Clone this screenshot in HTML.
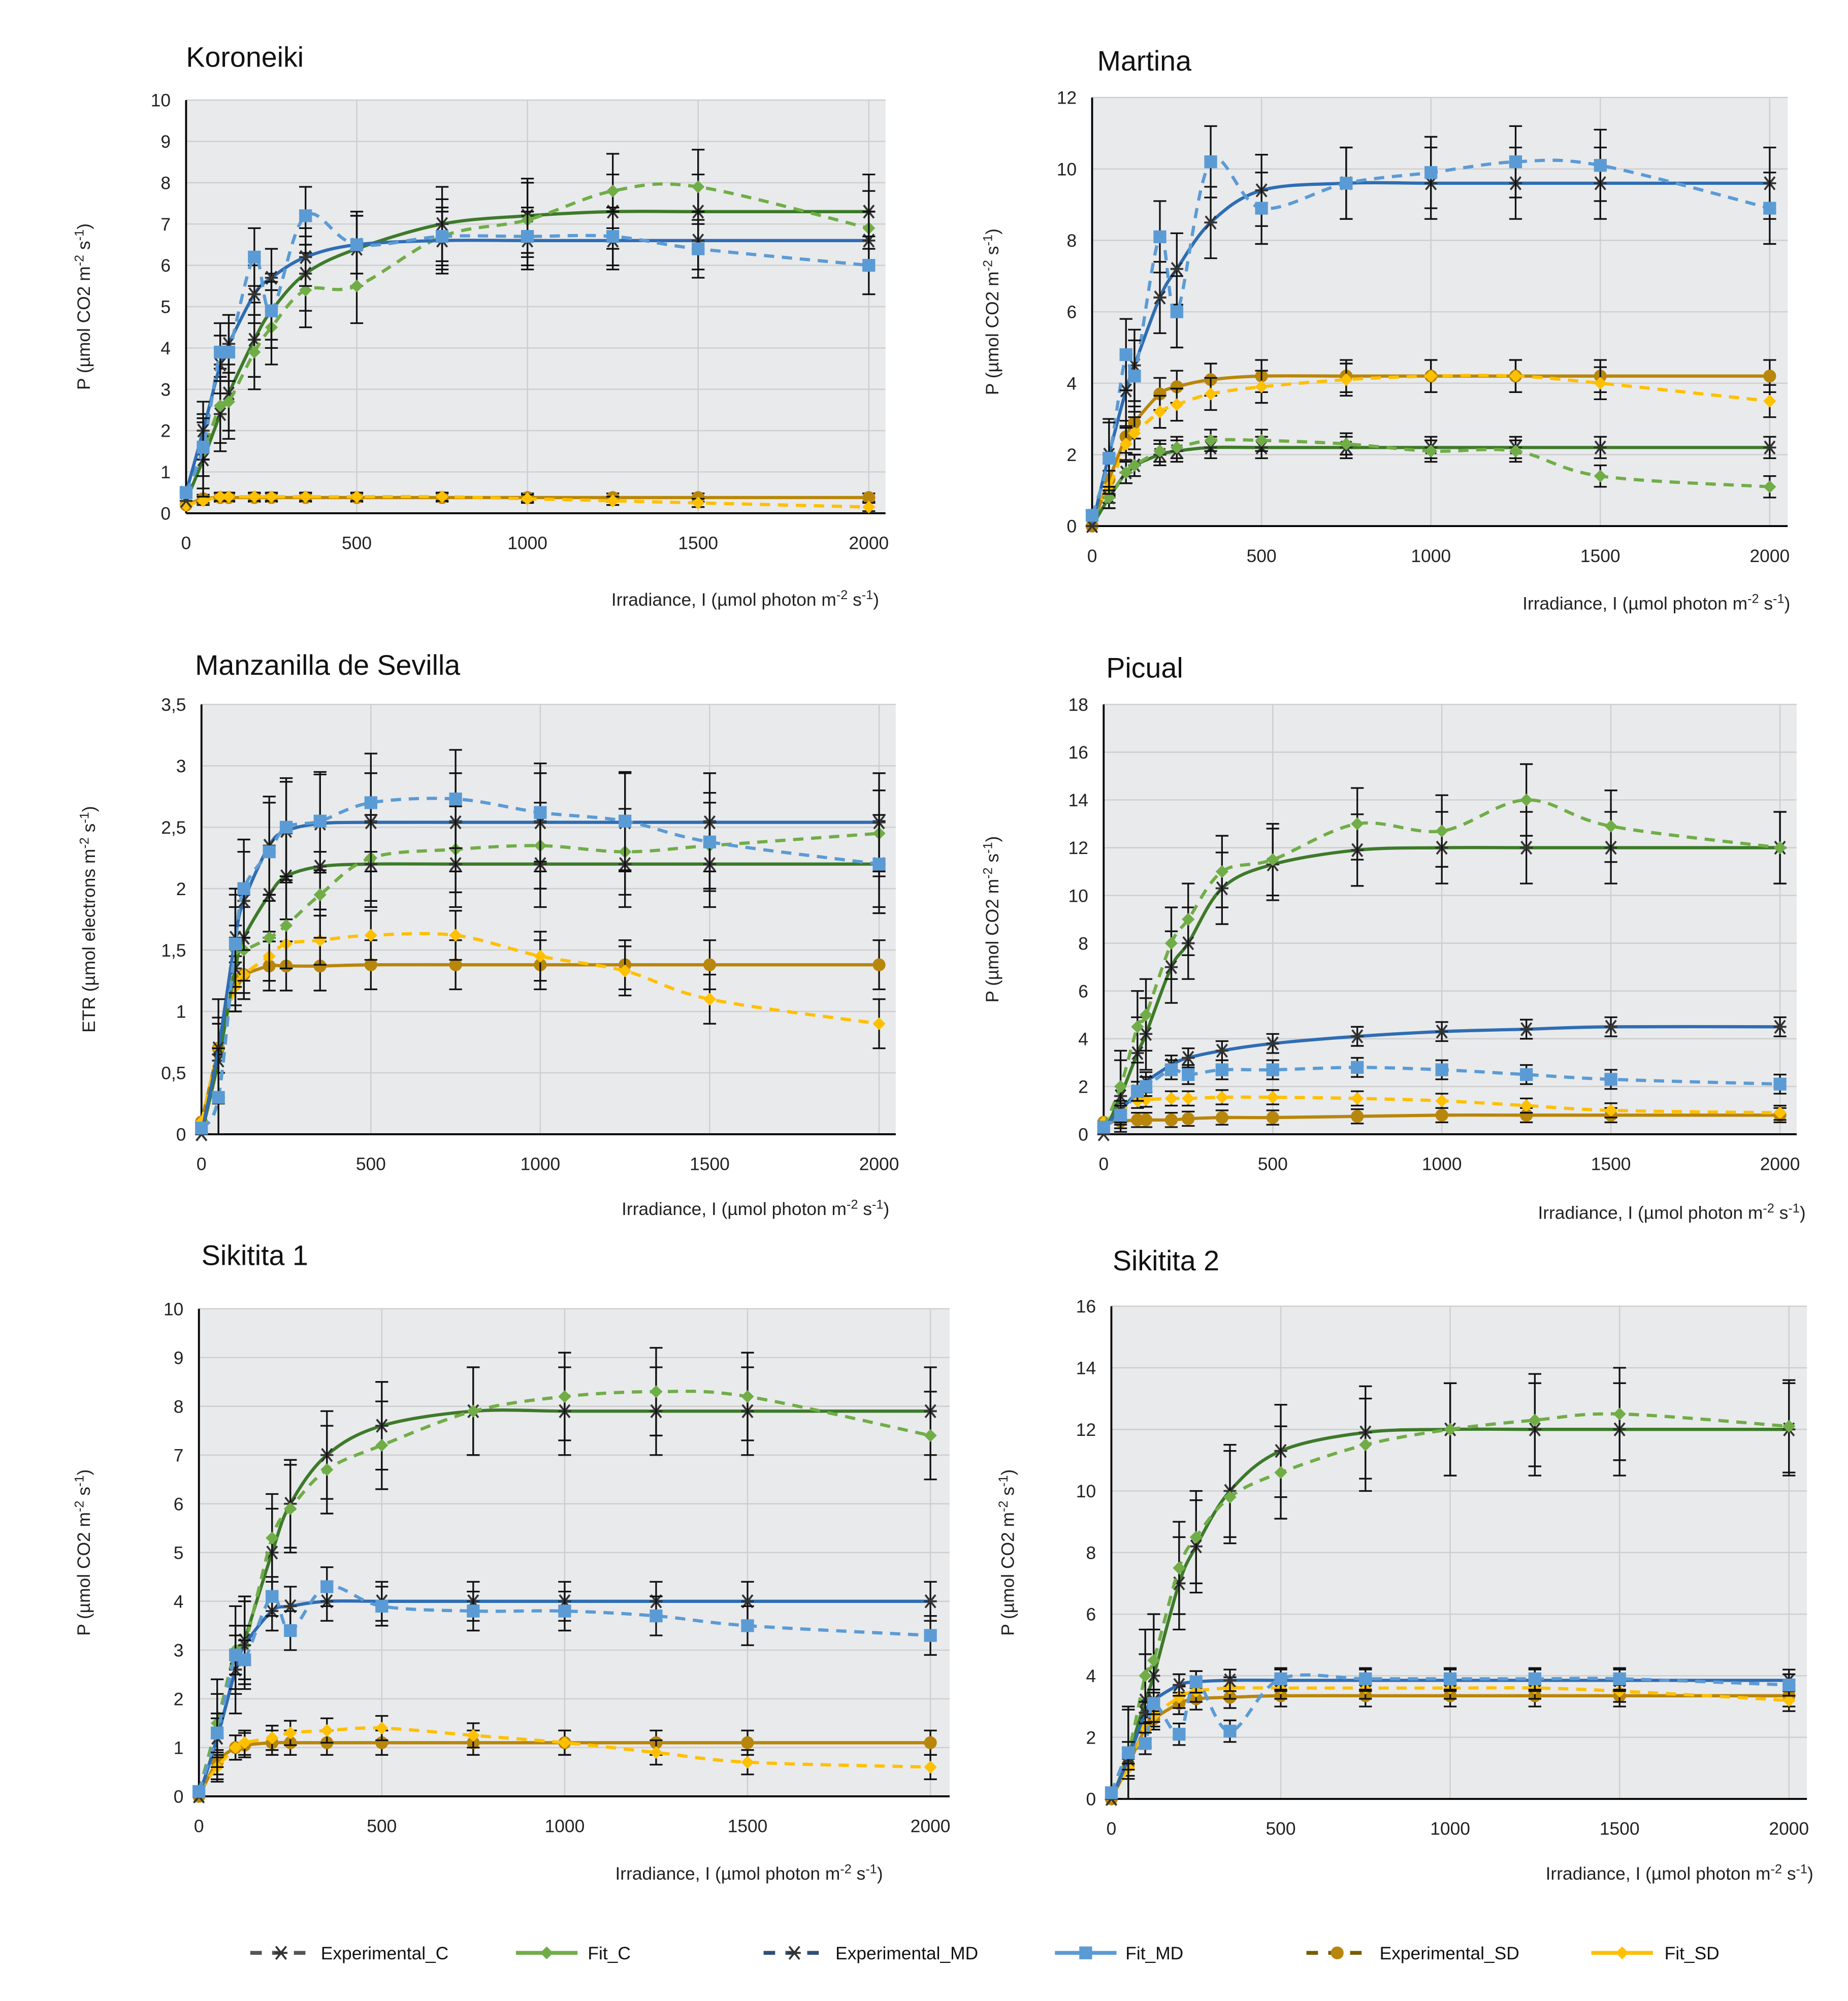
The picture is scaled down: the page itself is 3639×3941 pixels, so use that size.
<!DOCTYPE html>
<html><head><meta charset="utf-8"><style>
html,body{margin:0;padding:0;background:#fff}
svg{display:block}
text{font-family:"Liberation Sans","DejaVu Sans",sans-serif}
</style></head><body>
<svg id="chart" width="3639" height="3941" viewBox="0 0 1440 1559.5" xmlns="http://www.w3.org/2000/svg"></svg>
<script>
const irradiance=[0,50,100,125,200,250,350,500,750,1000,1250,1500,2000];
const xTicks=[0,500,1000,1500,2000];
const panelNames=["Koroneiki","Martina","Manzanilla de Sevilla","Picual","Sikitita 1","Sikitita 2"];
const yMaxes=[10,12,3.5,18,10,16];
const yStepArr=[1,2,0.5,2,1,2];
const koroneikiCExp=[0.5,1.5,2.6,2.7,3.9,4.5,5.4,5.5,6.7,7.1,7.8,7.9,6.9];
const koroneikiCFit=[0.3,1.3,2.4,2.9,4.2,4.9,5.8,6.4,7.0,7.2,7.3,7.3,7.3];
const koroneikiMDExp=[0.5,1.6,3.9,3.9,6.2,4.9,7.2,6.5,6.7,6.7,6.7,6.4,6.0];
const koroneikiMDFit=[0.5,2.0,3.6,4.1,5.3,5.7,6.2,6.5,6.6,6.6,6.6,6.6,6.6];
const koroneikiSDExp=[0.2,0.3,0.4,0.4,0.4,0.4,0.4,0.4,0.4,0.35,0.3,0.25,0.15];
const koroneikiSDFit=[0.2,0.35,0.38,0.38,0.38,0.38,0.38,0.38,0.38,0.38,0.38,0.38,0.38];
const martinaCExp=[0.3,0.8,1.5,1.7,2.1,2.2,2.4,2.4,2.3,2.1,2.1,1.4,1.1];
const martinaCFit=[0,0.8,1.5,1.7,2.0,2.1,2.2,2.2,2.2,2.2,2.2,2.2,2.2];
const martinaMDExp=[0.3,1.9,4.8,4.2,8.1,6.0,10.2,8.9,9.6,9.9,10.2,10.1,8.9];
const martinaMDFit=[0,2.0,3.8,4.5,6.4,7.2,8.5,9.4,9.6,9.6,9.6,9.6,9.6];
const martinaSDExp=[0.3,1.1,2.3,2.6,3.2,3.4,3.7,3.9,4.1,4.2,4.2,4.0,3.5];
const martinaSDFit=[0,1.3,2.5,2.9,3.7,3.9,4.1,4.2,4.2,4.2,4.2,4.2,4.2];
const manzCExp=[0.05,0.3,1.5,1.5,1.6,1.7,1.95,2.25,2.32,2.35,2.3,2.35,2.45];
const manzCFit=[0,0.6,1.35,1.6,1.95,2.1,2.18,2.2,2.2,2.2,2.2,2.2,2.2];
const manzMDExp=[0.05,0.3,1.55,2.0,2.3,2.5,2.55,2.7,2.73,2.62,2.55,2.38,2.2];
const manzMDFit=[0,0.7,1.6,1.9,2.35,2.47,2.53,2.54,2.54,2.54,2.54,2.54,2.54];
const manzSDExp=[0.1,0.7,1.2,1.3,1.45,1.55,1.58,1.62,1.62,1.45,1.33,1.1,0.9];
const manzSDFit=[0.1,0.7,1.25,1.3,1.37,1.37,1.37,1.38,1.38,1.38,1.38,1.38,1.38];
const picualCExp=[0.3,2.0,4.5,5.0,8.0,9.0,11.0,11.5,13.0,12.7,14.0,12.9,12.0];
const picualCFit=[0,1.6,3.4,4.2,7.0,8.0,10.3,11.3,11.9,12.0,12.0,12.0,12.0];
const picualMDExp=[0.3,0.8,1.8,2.0,2.7,2.5,2.7,2.7,2.8,2.7,2.5,2.3,2.1];
const picualMDFit=[0.3,1.0,1.8,2.2,2.9,3.2,3.5,3.8,4.1,4.3,4.4,4.5,4.5];
const picualSDExp=[0.5,1.0,1.4,1.45,1.5,1.5,1.55,1.55,1.5,1.4,1.2,1.0,0.9];
const picualSDFit=[0.5,0.55,0.6,0.6,0.6,0.65,0.7,0.7,0.75,0.8,0.8,0.8,0.8];
const sik1CExp=[0.1,1.5,3.0,3.1,5.3,5.9,6.7,7.2,7.9,8.2,8.3,8.2,7.4];
const sik1CFit=[0,1.2,2.6,3.2,5.0,6.0,7.0,7.6,7.9,7.9,7.9,7.9,7.9];
const sik1MDExp=[0.1,1.3,2.9,2.8,4.1,3.4,4.3,3.9,3.8,3.8,3.7,3.5,3.3];
const sik1MDFit=[0,1.2,2.6,3.1,3.8,3.9,4.0,4.0,4.0,4.0,4.0,4.0,4.0];
const sik1SDExp=[0.1,0.6,1.0,1.1,1.2,1.3,1.35,1.4,1.25,1.1,0.9,0.7,0.6];
const sik1SDFit=[0,0.7,1.0,1.05,1.1,1.1,1.1,1.1,1.1,1.1,1.1,1.1,1.1];
const sik2CExp=[0.2,1.5,4.0,4.5,7.5,8.5,9.8,10.6,11.5,12.0,12.3,12.5,12.1];
const sik2CFit=[0,1.4,3.2,4.0,7.0,8.2,10.0,11.3,11.9,12.0,12.0,12.0,12.0];
const sik2MDExp=[0.2,1.5,1.8,3.1,2.1,3.8,2.2,3.9,3.9,3.9,3.9,3.9,3.7];
const sik2MDFit=[0,1.3,2.8,3.2,3.7,3.8,3.85,3.85,3.85,3.85,3.85,3.85,3.85];
const sik2SDExp=[0.1,1.0,2.3,2.7,3.3,3.5,3.6,3.6,3.6,3.6,3.6,3.5,3.2];
const sik2SDFit=[0,1.1,2.3,2.6,3.1,3.25,3.3,3.35,3.35,3.35,3.35,3.35,3.35];
const errC=[0.9,0.3,0.35,1.5,0.9,1.5];
const errMD=[0.7,1.0,0.4,0.4,0.4,0.35];
const errSD=[0.1,0.45,0.2,0.3,0.25,0.35];

const panelSeries=[
 [koroneikiCExp,koroneikiCFit,koroneikiMDExp,koroneikiMDFit,koroneikiSDExp,koroneikiSDFit],
 [martinaCExp,martinaCFit,martinaMDExp,martinaMDFit,martinaSDExp,martinaSDFit],
 [manzCExp,manzCFit,manzMDExp,manzMDFit,manzSDExp,manzSDFit],
 [picualCExp,picualCFit,picualMDExp,picualMDFit,picualSDExp,picualSDFit],
 [sik1CExp,sik1CFit,sik1MDExp,sik1MDFit,sik1SDExp,sik1SDFit],
 [sik2CExp,sik2CFit,sik2MDExp,sik2MDFit,sik2SDExp,sik2SDFit]];
// layout: plot left, right, top, bottom, x at 2000, title pos, ylabel x, xlabel end, xlabel y
const layouts=[
 {l:145,r:690,t:78,b:400,x2:677,tx:145,ty:52,yl:70,xe:685,xy:472},
 {l:851,r:1393,t:76,b:410,x2:1379,tx:855,ty:55,yl:778,xe:1395,xy:475},
 {l:157,r:698,t:549,b:884,x2:685,tx:152,ty:526,yl:74,xe:693,xy:947},
 {l:860,r:1400,t:549,b:884,x2:1387,tx:862,ty:528,yl:778,xe:1407,xy:950},
 {l:155,r:740,t:1020,b:1400,x2:725,tx:157,ty:986,yl:70,xe:688,xy:1465},
 {l:866,r:1408,t:1018,b:1402,x2:1394,tx:867,ty:990,yl:790,xe:1413,xy:1465}];
const NS="http://www.w3.org/2000/svg";
const svg=document.getElementById('chart');
function mk(tag,attrs,parent){const e=document.createElementNS(NS,tag);for(const k in attrs)e.setAttribute(k,attrs[k]);(parent||svg).appendChild(e);return e;}
function smooth(pts){let d='M'+pts[0][0]+','+pts[0][1];for(let i=0;i<pts.length-1;i++){const p0=pts[i-1]||pts[i],p1=pts[i],p2=pts[i+1],p3=pts[i+2]||p2;const c1=[p1[0]+(p2[0]-p0[0])/6,p1[1]+(p2[1]-p0[1])/6],c2=[p2[0]-(p3[0]-p1[0])/6,p2[1]-(p3[1]-p1[1])/6];d+=' C'+c1[0]+','+c1[1]+' '+c2[0]+','+c2[1]+' '+p2[0]+','+p2[1];}return d;}
const styles=[
 {c:'#70ad47',dash:'8,6',m:'diamond',w:2.5,n:'fit-c'},
 {c:'#3d7a2a',dash:'',m:'x',w:2.5,n:'experimental-c'},
 {c:'#5b9bd5',dash:'8,6',m:'square',w:2.5,n:'fit-md'},
 {c:'#2e6db4',dash:'',m:'x',w:2.5,n:'experimental-md'},
 {c:'#ffc000',dash:'8,6',m:'diamond',w:2.5,n:'fit-sd'},
 {c:'#b8860b',dash:'',m:'circle',w:2.5,n:'experimental-sd'}];
function marker(g,m,x,y,c){
 let e;
 if(m==='diamond')e=mk('polygon',{points:`${x},${y-5} ${x+5},${y} ${x},${y+5} ${x-5},${y}`,fill:c},g);
 else if(m==='square')e=mk('rect',{x:x-5,y:y-5,width:10,height:10,fill:c},g);
 else if(m==='circle')e=mk('circle',{cx:x,cy:y,r:5,fill:c},g);
 else e=mk('path',{d:`M${x-4},${y-5}L${x+4},${y+5}M${x+4},${y-5}L${x-4},${y+5}M${x-5},${y}L${x+5},${y}`,stroke:'#333',"stroke-width":1.5,fill:'none'},g);
 
 
}
layouts.forEach((L,pi)=>{
 const g=mk('g',{});
 
 
 const ymax=yMaxes[pi],step=yStepArr[pi];
 const X=v=>L.l+(L.x2-L.l)*v/2000, Y=v=>L.b-(L.b-L.t)*v/ymax;
 const bg=mk('rect',{x:L.l,y:L.t,width:L.r-L.l,height:L.b-L.t,fill:'#e9eaec'},g);
 
 
 for(let v=0;v<=ymax+1e-9;v+=step){
  mk('line',{x1:L.l,x2:L.r,y1:Y(v),y2:Y(v),stroke:'#cfcfcf','stroke-width':1},g);
  const t=mk('text',{x:L.l-12,y:Y(v)+5,'text-anchor':'end','font-size':14,fill:'#222'},g);
  t.textContent=String(Math.round(v*10)/10).replace('.',',');
  
  
 }
 xTicks.forEach(v=>{
  mk('line',{x1:X(v),x2:X(v),y1:L.t,y2:L.b,stroke:'#cfcfcf','stroke-width':1},g);
  const t=mk('text',{x:X(v),y:L.b+28,'text-anchor':'middle','font-size':14,fill:'#222'},g);
  t.textContent=v;
  
  
 });
 mk('line',{x1:L.l,x2:L.l,y1:L.t,y2:L.b,stroke:'#000','stroke-width':1.5},g);
 mk('line',{x1:L.l,x2:L.r,y1:L.b,y2:L.b,stroke:'#000','stroke-width':1.5},g);
 const title=mk('text',{x:L.tx,y:L.ty,'font-size':22,fill:'#111'},g);
 title.textContent=panelNames[pi];
 
 
 const ym=(L.t+L.b)/2;
 const yl=mk('text',{x:L.yl,y:ym,'text-anchor':'middle','font-size':14,fill:'#222',transform:`rotate(-90 ${L.yl} ${ym})`},g);
 yl.innerHTML=(pi===2?'ETR  (µmol electrons m':'P (µmol CO2 m')+'<tspan dy="-5" font-size="10">-2</tspan><tspan dy="5"> s</tspan><tspan dy="-5" font-size="10">-1</tspan><tspan dy="5">)</tspan>';
 
 
 const xl=mk('text',{x:L.xe,y:L.xy,'text-anchor':'end','font-size':14,fill:'#222'},g);
 xl.innerHTML='Irradiance, I (µmol photon m<tspan dy="-5" font-size="10">-2</tspan><tspan dy="5"> s</tspan><tspan dy="-5" font-size="10">-1</tspan><tspan dy="5">)</tspan>';
 
 
 const errs=[errC[pi],errC[pi],errMD[pi],errMD[pi],errSD[pi],errSD[pi]];
 const order=[5,4,1,0,3,2];
 order.forEach(si=>{
  const s=styles[si],vals=panelSeries[pi][si];
  const sg=mk('g',{},g);
  
  
  const pts=vals.map((v,i)=>[X(irradiance[i]),Y(v)]);
  const p=mk('path',{d:smooth(pts),fill:'none',stroke:s.c,'stroke-width':s.w,'stroke-dasharray':s.dash},sg);
  
  
  vals.forEach((v,i)=>{
   if(i===0)return;
   const e=errs[si],x=X(irradiance[i]);
   const y1=Y(v+e),y2=Y(Math.max(0,v-e));
   const eb=mk('path',{d:`M${x},${y1}L${x},${y2}M${x-5},${y1}L${x+5},${y1}M${x-5},${y2}L${x+5},${y2}`,stroke:'#111','stroke-width':1.3,fill:'none'},sg);
   
   
  });
  vals.forEach((v,i)=>marker(sg,s.m,X(irradiance[i]),Y(v),s.c));
 });
});
// legend
const legendItems=[
 {lx:195,tx:250,label:'Experimental_C',c:'#555',dash:true,m:'x',mc:'#3d7a2a'},
 {lx:402,tx:458,label:'Fit_C',c:'#70ad47',dash:false,m:'diamond',mc:'#70ad47'},
 {lx:595,tx:651,label:'Experimental_MD',c:'#2e4f7a',dash:true,m:'x',mc:'#2e6db4'},
 {lx:822,tx:877,label:'Fit_MD',c:'#5b9bd5',dash:false,m:'square',mc:'#5b9bd5'},
 {lx:1018,tx:1075,label:'Experimental_SD',c:'#7a5c00',dash:true,m:'circle',mc:'#b8860b'},
 {lx:1240,tx:1297,label:'Fit_SD',c:'#ffc000',dash:false,m:'diamond',mc:'#ffc000'}];
const lg=mk('g',{});


legendItems.forEach(it=>{
 const g=mk('g',{},lg);
 
 
 const y=1522;
 mk('line',{x1:it.lx,x2:it.lx+48,y1:y,y2:y,stroke:it.c,'stroke-width':3,'stroke-dasharray':it.dash?'9,8':''},g);
 marker(g,it.m,it.lx+24,y,it.mc);
 const t=mk('text',{x:it.tx,y:y+5,'font-size':14,fill:'#111'},g);
 t.textContent=it.label;
});
</script>
</body></html>
